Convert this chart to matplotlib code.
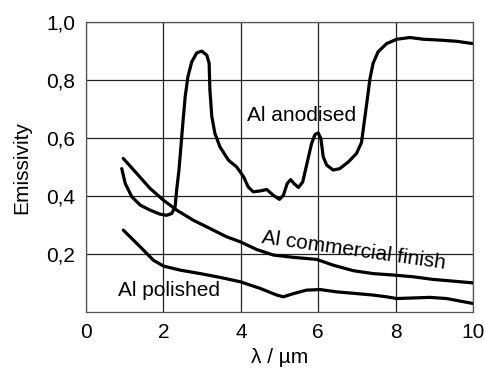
import matplotlib
matplotlib.use('Agg')
import matplotlib.pyplot as plt

plt.rcParams['font.family'] = ['Liberation Sans', 'DejaVu Sans']

# emissivity curves (wavelength in um)
anod_x = [0.92, 1.01, 1.18, 1.40, 1.65, 1.91, 2.08, 2.21, 2.30, 2.34, 2.40, 2.45, 2.50, 2.56,
          2.63, 2.73, 2.86, 2.99, 3.12, 3.18, 3.20, 3.25, 3.33, 3.46, 3.68, 3.89, 4.07, 4.19,
          4.32, 4.50, 4.67, 4.84, 5.00, 5.10, 5.20, 5.29, 5.37, 5.49, 5.60, 5.70, 5.83, 5.92,
          6.00, 6.07, 6.13, 6.22, 6.39, 6.56, 6.78, 6.99, 7.12, 7.18, 7.25, 7.34, 7.42, 7.55,
          7.77, 8.03, 8.37, 8.72, 9.15, 9.58, 10.0]
anod_y = [0.495, 0.444, 0.398, 0.369, 0.352, 0.338, 0.334, 0.340, 0.363, 0.421, 0.490, 0.570,
          0.651, 0.742, 0.811, 0.863, 0.894, 0.900, 0.886, 0.858, 0.766, 0.674, 0.616, 0.570,
          0.524, 0.501, 0.467, 0.432, 0.415, 0.418, 0.423, 0.403, 0.389, 0.403, 0.444, 0.457,
          0.444, 0.430, 0.449, 0.507, 0.582, 0.613, 0.618, 0.599, 0.536, 0.507, 0.490, 0.495,
          0.518, 0.547, 0.585, 0.645, 0.714, 0.806, 0.858, 0.898, 0.926, 0.941, 0.947, 0.941,
          0.938, 0.934, 0.926]

comm_x = [0.96, 1.31, 1.65, 2.00, 2.34, 2.77, 3.12, 3.63, 3.98, 4.41, 4.84, 5.36, 5.96, 6.39,
          6.91, 7.42, 7.94, 8.46, 8.97, 9.49, 10.0]
comm_y = [0.530, 0.478, 0.427, 0.386, 0.352, 0.317, 0.294, 0.260, 0.243, 0.216, 0.197, 0.189,
          0.182, 0.162, 0.143, 0.133, 0.128, 0.122, 0.113, 0.107, 0.101]

pol_x = [0.96, 1.40, 1.74, 2.00, 2.43, 2.95, 3.46, 3.98, 4.50, 4.93, 5.10, 5.36, 5.70, 6.05,
         6.48, 7.00, 7.42, 7.77, 8.03, 8.46, 8.89, 9.32, 10.0]
pol_y = [0.283, 0.225, 0.179, 0.159, 0.145, 0.133, 0.120, 0.105, 0.082, 0.059, 0.053, 0.064,
         0.076, 0.078, 0.070, 0.064, 0.059, 0.053, 0.047, 0.049, 0.051, 0.047, 0.030]

xticks = [0, 2, 4, 6, 8, 10]
yticks = [0.2, 0.4, 0.6, 0.8, 1.0]
ytick_labels = ['0,2', '0,4', '0,6', '0,8', '1,0']

fig = plt.figure(figsize=(4.84, 3.69), dpi=100)
ax = fig.add_axes([0.178, 0.154, 0.799, 0.786])

for xs, ys in [(anod_x, anod_y), (comm_x, comm_y), (pol_x, pol_y)]:
    ax.plot(xs, ys, color='black', lw=2.3, solid_joinstyle='round', solid_capstyle='round', zorder=3)

ax.set_xlim(0, 10)
ax.set_ylim(0, 1.0)
ax.set_xticks(xticks)
ax.set_xticklabels([str(t) for t in xticks])
ax.set_yticks(yticks)
ax.set_yticklabels(ytick_labels)
ax.tick_params(length=0, labelsize=15, pad=8)
ax.grid(True, color='#222222', lw=0.9)
for s in ax.spines.values():
    s.set_color('#555555')
    s.set_linewidth(0.9)

ax.set_xlabel('λ / µm', fontsize=15, labelpad=4)
ax.set_ylabel('Emissivity', fontsize=15, labelpad=11)

ax.text(5.57, 0.679, 'Al anodised', fontsize=15, ha='center', va='center', zorder=4)
ax.text(6.93, 0.212, 'Al commercial finish', fontsize=15, ha='center', va='center',
        rotation=-8, rotation_mode='anchor', zorder=4)
ax.text(2.13, 0.076, 'Al polished', fontsize=15, ha='center', va='center', zorder=4)

fig.savefig('out.png', dpi=100)
